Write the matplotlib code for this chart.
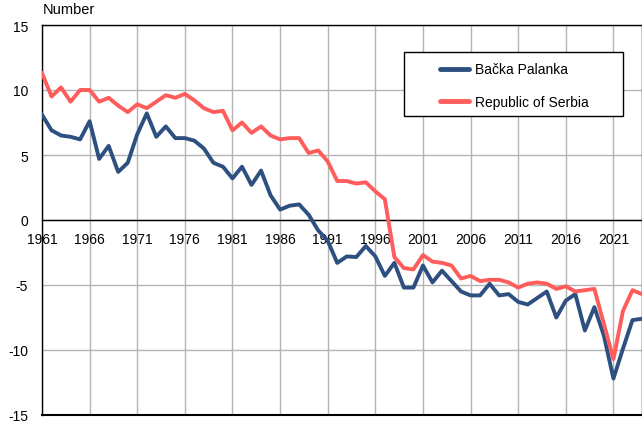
import matplotlib
matplotlib.use('Agg')
from matplotlib import pyplot as plt
from matplotlib.patches import Rectangle
import numpy as np

plt.rcParams['font.family'] = ['Liberation Sans', 'DejaVu Sans']
plt.rcParams['axes.unicode_minus'] = False

years = np.arange(1961, 2025)

backa_palanka = [8.1, 6.9, 6.5, 6.4, 6.2, 7.6, 4.7, 5.7, 3.7, 4.4,
                 6.6, 8.2, 6.4, 7.2, 6.3, 6.3, 6.1, 5.5, 4.4, 4.1,
                 3.2, 4.1, 2.7, 3.8, 1.9, 0.8, 1.1, 1.2, 0.4, -0.8,
                 -1.6, -3.3, -2.8, -2.85, -2.0, -2.8, -4.3, -3.3, -5.2, -5.2,
                 -3.5, -4.8, -3.9, -4.7, -5.5, -5.8, -5.8, -4.9, -5.8, -5.7,
                 -6.3, -6.5, -6.0, -5.5, -7.5, -6.2, -5.7, -8.5, -6.7, -8.9,
                 -12.2, -9.9, -7.7, -7.6]

serbia = [11.3, 9.5, 10.2, 9.1, 10.0, 10.0, 9.1, 9.4, 8.8, 8.3,
          8.9, 8.6, 9.1, 9.6, 9.4, 9.7, 9.2, 8.6, 8.3, 8.4,
          6.9, 7.5, 6.7, 7.2, 6.5, 6.2, 6.3, 6.3, 5.15, 5.35,
          4.5, 3.0, 3.0, 2.8, 2.9, 2.2, 1.6, -2.85, -3.7, -3.8,
          -2.7, -3.2, -3.3, -3.5, -4.5, -4.3, -4.7, -4.6, -4.6, -4.8,
          -5.2, -4.9, -4.8, -4.9, -5.3, -5.1, -5.5, -5.4, -5.3, -8.0,
          -10.7, -7.0, -5.4, -5.7]

year_ticks = list(range(1961, 2022, 5))
value_ticks = [-15, -10, -5, 0, 5, 10, 15]

fig = plt.figure(figsize=(6.42, 4.35), dpi=100)
ax = fig.add_axes([42 / 642, 1 - 416 / 435, 600 / 642, 390 / 435])

ax.plot(years, backa_palanka, color='#2d5080', lw=2.8, label='Bačka Palanka', zorder=3)
ax.plot(years, serbia, color='#ff5c5c', lw=2.8, label='Republic of Serbia', zorder=3)

ax.set_xlim(1961, 2024)
ax.set_ylim(-15, 15)
ax.set_xticks(year_ticks)
ax.set_yticks(value_ticks)
ax.grid(True, color='#b4b4b4', lw=1)
ax.set_axisbelow(True)

# x axis sits on the zero line, frame closed with a line at the bottom
ax.spines['bottom'].set_position(('data', 0))
for side in ['bottom', 'left', 'top', 'right']:
    ax.spines[side].set_color('black')
    ax.spines[side].set_linewidth(1)
ax.axhline(-15, color='black', lw=1.5, clip_on=False, zorder=4)
ax.tick_params(axis='both', length=0, labelsize=10, colors='black')
ax.tick_params(axis='x', pad=9)
ax.tick_params(axis='y', pad=10)

fig.text(43 / 642, 1 - 10 / 435, 'Number', fontsize=10.5, va='center', ha='left')

# legend box drawn separately, entries placed inside it
box = Rectangle((0.603, 0.767), 0.365, 0.165, transform=ax.transAxes,
                facecolor='white', edgecolor='black', lw=1, zorder=5)
ax.add_patch(box)
leg = ax.legend(loc='upper left', bbox_to_anchor=(0.663, 0.904),
                frameon=False, fontsize=10, handlelength=2.1,
                labelspacing=1.33, borderpad=0, handletextpad=0.45,
                borderaxespad=0)
leg.set_zorder(6)
for h in leg.legend_handles:
    h.set_linewidth(3.5)
    h.set_solid_capstyle('round')

fig.savefig('out.png', dpi=100)
